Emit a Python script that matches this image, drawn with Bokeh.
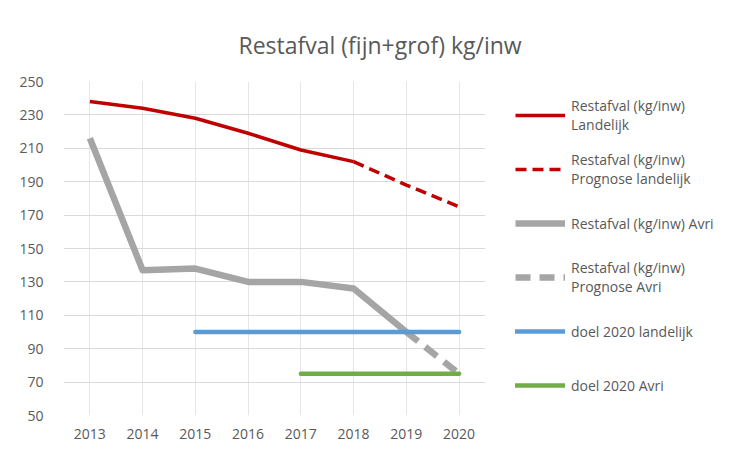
from bokeh.plotting import figure
from bokeh.models import Range1d, Legend, LegendItem, FixedTicker
from bokeh.embed import file_html
from bokeh.resources import INLINE

years = ["2013", "2014", "2015", "2016", "2017", "2018", "2019", "2020"]

land_years = ["2013", "2014", "2015", "2016", "2017", "2018"]
land_vals = [238, 234, 228, 219, 209, 202]

land_prog_years = ["2018", "2019", "2020"]
land_prog_vals = [202, 188, 175]

avri_years = ["2013", "2014", "2015", "2016", "2017", "2018", "2019"]
avri_vals = [216, 137, 138, 130, 130, 126, 100]

avri_prog_years = ["2019", "2020"]
avri_prog_vals = [100, 75]

doel_land_years = ["2015", "2016", "2017", "2018", "2019", "2020"]
doel_land_vals = [100, 100, 100, 100, 100, 100]

doel_avri_years = ["2017", "2018", "2019", "2020"]
doel_avri_vals = [75, 75, 75, 75]

y_ticks = [50, 70, 90, 110, 130, 150, 170, 190, 210, 230, 250]

FONT = "Open Sans"
TXT = "#595959"

p = figure(x_range=years, y_range=Range1d(50, 250), frame_width=422, frame_height=334,
           output_backend="svg", toolbar_location=None,
           title="Restafval (fijn+grof) kg/inw",
           min_border_left=63, min_border_right=241, min_border_top=81, min_border_bottom=23)
p.outline_line_color = None
p.background_fill_color = "white"

p.title.text_font = FONT
p.title.text_font_size = "23px"
p.title.text_font_style = "normal"
p.title.text_color = TXT
p.title.align = "left"
p.title.offset = 175
p.title.standoff = 41

p.yaxis.ticker = FixedTicker(ticks=y_ticks)
for ax in (p.xaxis[0], p.yaxis[0]):
    ax.axis_line_color = None
    ax.major_tick_line_color = None
    ax.minor_tick_line_color = None
    ax.major_label_text_font = FONT
    ax.major_label_text_font_size = "14px"
    ax.major_label_text_color = TXT
p.yaxis.major_label_standoff = 14
p.xaxis.major_label_standoff = 7

p.ygrid.grid_line_color = "#D9D9D9"
p.xgrid.grid_line_color = "#E6E6E6"

r1 = p.line(land_years, land_vals, line_color="#C00000", line_width=3.5)
r2 = p.line(land_prog_years, land_prog_vals, line_color="#C00000", line_width=3.5, line_dash="11 6")
r3 = p.line(avri_years, avri_vals, line_color="#A5A5A5", line_width=6.5, line_join="round")
r4 = p.line(avri_prog_years, avri_prog_vals, line_color="#A5A5A5", line_width=6.5, line_dash="15 9")
r5 = p.line(doel_land_years, doel_land_vals, line_color="#5B9BD5", line_width=4.5, line_cap="round")
r6 = p.line(doel_avri_years, doel_avri_vals, line_color="#70AD47", line_width=4.5, line_cap="round")

legend = Legend(items=[
    LegendItem(label="Restafval (kg/inw)\nLandelijk", renderers=[r1]),
    LegendItem(label="Restafval (kg/inw)\nPrognose landelijk", renderers=[r2]),
    LegendItem(label="Restafval (kg/inw) Avri", renderers=[r3]),
    LegendItem(label="Restafval (kg/inw)\nPrognose Avri", renderers=[r4]),
    LegendItem(label="doel 2020 landelijk", renderers=[r5]),
    LegendItem(label="doel 2020 Avri", renderers=[r6]),
], location=(30, 8), orientation="vertical")
legend.border_line_color = None
legend.background_fill_alpha = 0
legend.padding = 0
legend.margin = 0
legend.spacing = 10
legend.glyph_width = 50
legend.glyph_height = 16
legend.label_height = 44
legend.label_standoff = 6
legend.label_text_font = FONT
legend.label_text_font_size = "14px"
legend.label_text_color = TXT
legend.label_text_baseline = "top"
p.add_layout(legend, "right")

open("out.html", "w").write(file_html(p, INLINE))
